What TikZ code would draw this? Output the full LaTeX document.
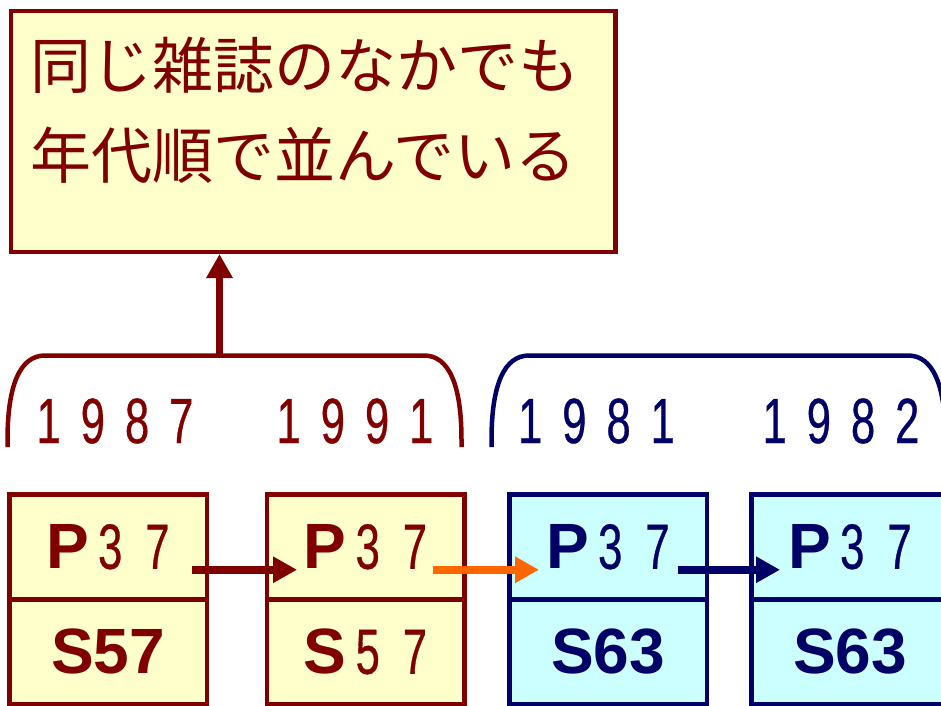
\documentclass[tikz,border=0pt]{standalone}
\usepackage{fontspec}
\setmainfont{Liberation Sans}
\newfontfamily\jpfont{Noto Sans CJK JP}
\newfontfamily\condfont[FakeStretch=0.68,FakeBold=0.5]{Liberation Sans}
\usetikzlibrary{arrows.meta}
\definecolor{dred}{HTML}{800000}
\definecolor{navy}{HTML}{000066}
\definecolor{lyel}{HTML}{FFFFCC}
\definecolor{lcyan}{HTML}{CCFFFF}
\definecolor{orng}{HTML}{FF6600}
\newcommand\dgap{\hspace{20pt}}
\newcommand\cgap{\hspace{23pt}}
\newcommand\pgap{\hspace{9pt}}
\begin{document}
\begin{tikzpicture}[x=1pt,y=-1pt,
  cell/.style={draw,line width=4.5pt,minimum width=197.5pt,minimum height=105pt,inner sep=0pt,anchor=north west,font=\fontsize{64pt}{64pt}\selectfont},
  redcell/.style={cell,draw=dred,fill=lyel,text=dred},
  bluecell/.style={cell,draw=navy,fill=lcyan,text=navy},
  year/.style={font=\condfont\fontsize{64pt}{64pt}\selectfont,inner sep=0pt},
  link/.style={line width=7.5pt,-{Triangle[length=24pt,width=25pt]}},
  bracket/.style={line width=4.5pt},
  jp/.style={font=\jpfont\fontsize{61pt}{61pt}\selectfont,text=dred,anchor=west,inner sep=0pt}]
\useasboundingbox (0,0) rectangle (941,705);
\clip (0,0) rectangle (941,705);
% note box
\node[draw=dred,fill=lyel,line width=4.5pt,minimum width=604.5pt,minimum height=241pt,inner sep=0pt,anchor=north west] (note) at (8.5,8.5) {};
\node[jp] (l1) at (30,65) {同じ雑誌のなかでも};
\node[jp] (l2) at (30,155) {年代順で並んでいる};
% brackets
\draw[bracket,dred] (7.5,447) -- (7.5,440) .. controls (7.5,385) and (20,355.5) .. (45,355.5) -- (424,355.5) .. controls (449,355.5) and (461.5,385) .. (461.5,440) -- (461.5,447);
\draw[bracket,navy] (491.5,447) -- (491.5,440) .. controls (491.5,385) and (504,355.5) .. (529,355.5) -- (908,355.5) .. controls (933,355.5) and (945.5,385) .. (945.5,440) -- (945.5,447);
\coordinate (brtop) at (219.5,355.5);
\draw[link,dred] (brtop) -- (brtop |- note.south);
% years
\node[year,text=dred] (y1) at (115,421) {1\dgap9\dgap8\dgap7};
\node[year,text=dred] (y2) at (355,421) {1\dgap9\dgap9\dgap1};
\node[year,text=navy] (y3) at (596.5,421) {1\dgap9\dgap8\dgap1};
\node[year,text=navy] (y4) at (841,421) {1\dgap9\dgap8\dgap2};
% cards
\node[redcell] (c1t) at (7,492) {\bfseries P\pgap{\mdseries\condfont 3\cgap7}};
\node[redcell] (c1b) at (7,597) {\bfseries S57};
\node[redcell] (c2t) at (264.5,492) {\bfseries P\pgap{\mdseries\condfont 3\cgap7}};
\node[redcell] (c2b) at (264.5,597) {\bfseries S\pgap{\mdseries\condfont 5\cgap7}};
\node[bluecell] (c3t) at (507,492) {\bfseries P\pgap{\mdseries\condfont 3\cgap7}};
\node[bluecell] (c3b) at (507,597) {\bfseries S63};
\node[bluecell] (c4t) at (749,492) {\bfseries P\pgap{\mdseries\condfont 3\cgap7}};
\node[bluecell] (c4b) at (749,597) {\bfseries S63};
% links
\draw[link,dred] ([shift={(-17,23)}]c1t.east) -- ([shift={(32.5,23)}]c2t.west);
\draw[link,orng] ([shift={(-33.5,23)}]c2t.east) -- ([shift={(32,23)}]c3t.west);
\draw[link,navy] ([shift={(-31.5,23)}]c3t.east) -- ([shift={(31,23)}]c4t.west);
\end{tikzpicture}
\end{document}
